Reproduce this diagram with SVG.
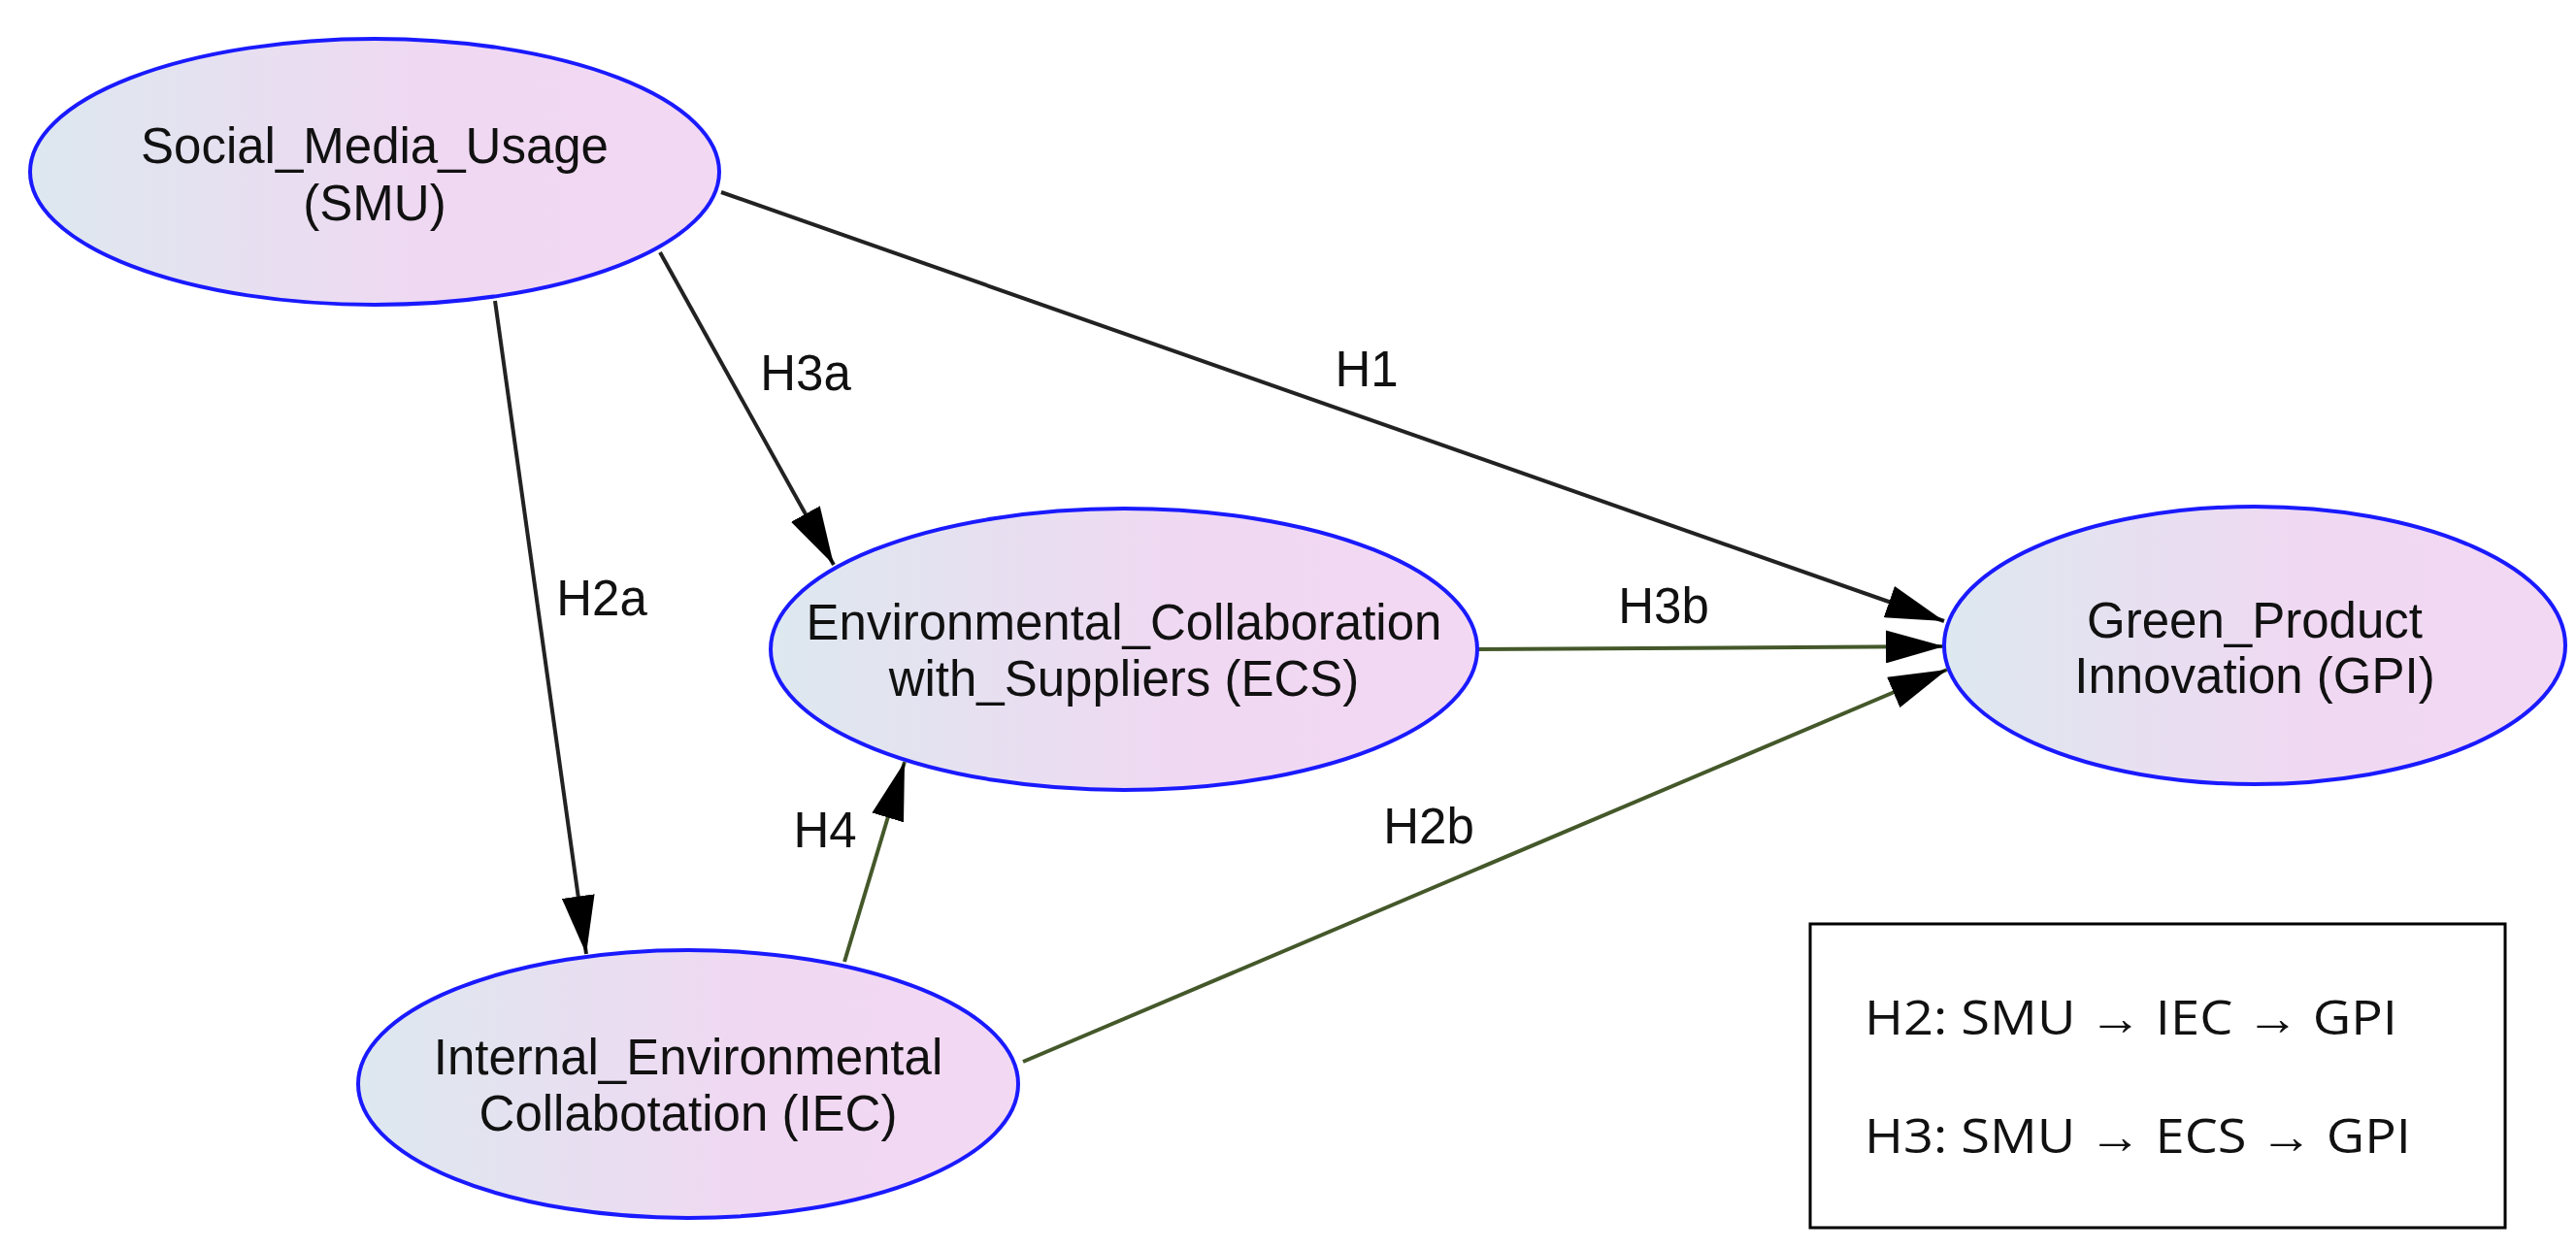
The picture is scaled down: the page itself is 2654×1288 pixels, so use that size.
<svg xmlns="http://www.w3.org/2000/svg" width="2654" height="1288" viewBox="0 0 2654 1288">
<style>
.n{stroke:#1a1aff;stroke-width:4;fill:url(#g)}
.t{font-family:"Liberation Sans",Arial,sans-serif;font-size:51px;fill:#111;text-anchor:middle}
.e{stroke:#44582a;stroke-width:4;fill:none;marker-end:url(#b)}
.k{stroke:#222}
.l{font-family:"Liberation Sans",Arial,sans-serif;font-size:51px;fill:#111;text-anchor:middle}
.g{font-family:"Open Sans","Liberation Sans",sans-serif;font-size:50px;fill:#111}
</style>
<defs>
<linearGradient id="g" x1="0" x2="1" y1="0" y2="0"><stop offset="0" stop-color="#dde8ef"/><stop offset="0.6" stop-color="#f0d8f2"/><stop offset="1" stop-color="#f3d8f3"/></linearGradient>
<marker id="b" viewBox="0 0 60 34" refX="60" refY="17" markerWidth="60" markerHeight="34" orient="auto" markerUnits="userSpaceOnUse"><path d="M0,0L60,17L0,34z" fill="#000"/></marker>
</defs>
<rect width="2654" height="1288" fill="#fff"/>
<g id="edges">
<line class="e k" x1="743" y1="198" x2="2003" y2="640"/>
<line class="e k" x1="680" y1="260" x2="859" y2="582"/>
<line class="e k" x1="510" y1="310" x2="604" y2="983"/>
<line class="e" x1="870" y1="991" x2="932" y2="785"/>
<line class="e" x1="1522" y1="669" x2="2003" y2="666"/>
<line class="e" x1="1054" y1="1094" x2="2006" y2="690"/>
<text class="l" x="1408" y="398">H1</text>
<text class="l" x="830" y="402">H3a</text>
<text class="l" x="620" y="634">H2a</text>
<text class="l" x="1714" y="642">H3b</text>
<text class="l" x="850" y="873">H4</text>
<text class="l" x="1472" y="869">H2b</text>
</g>
<g id="SMU"><ellipse class="n" cx="386" cy="177" rx="355" ry="137"/><text class="t" x="386" y="168">Social_Media_Usage</text><text class="t" x="386" y="227">(SMU)</text></g>
<g id="ECS"><ellipse class="n" cx="1158" cy="669" rx="364" ry="145"/><text class="t" x="1158" y="659">Environmental_Collaboration</text><text class="t" x="1158" y="717">with_Suppliers (ECS)</text></g>
<g id="GPI"><ellipse class="n" cx="2323" cy="665" rx="320" ry="143"/><text class="t" x="2323" y="657">Green_Product</text><text class="t" x="2323" y="714">Innovation (GPI)</text></g>
<g id="IEC"><ellipse class="n" cx="709" cy="1117" rx="340" ry="138"/><text class="t" x="709" y="1107">Internal_Environmental</text><text class="t" x="709" y="1165">Collabotation (IEC)</text></g>
<g id="legend"><rect x="1865" y="952" width="716" height="313" fill="#fff" stroke="#000" stroke-width="3"/>
<text class="g" x="1921" y="1066" textLength="549" lengthAdjust="spacingAndGlyphs">H2: SMU → IEC → GPI</text>
<text class="g" x="1921" y="1188" textLength="563" lengthAdjust="spacingAndGlyphs">H3: SMU → ECS → GPI</text></g>
</svg>
